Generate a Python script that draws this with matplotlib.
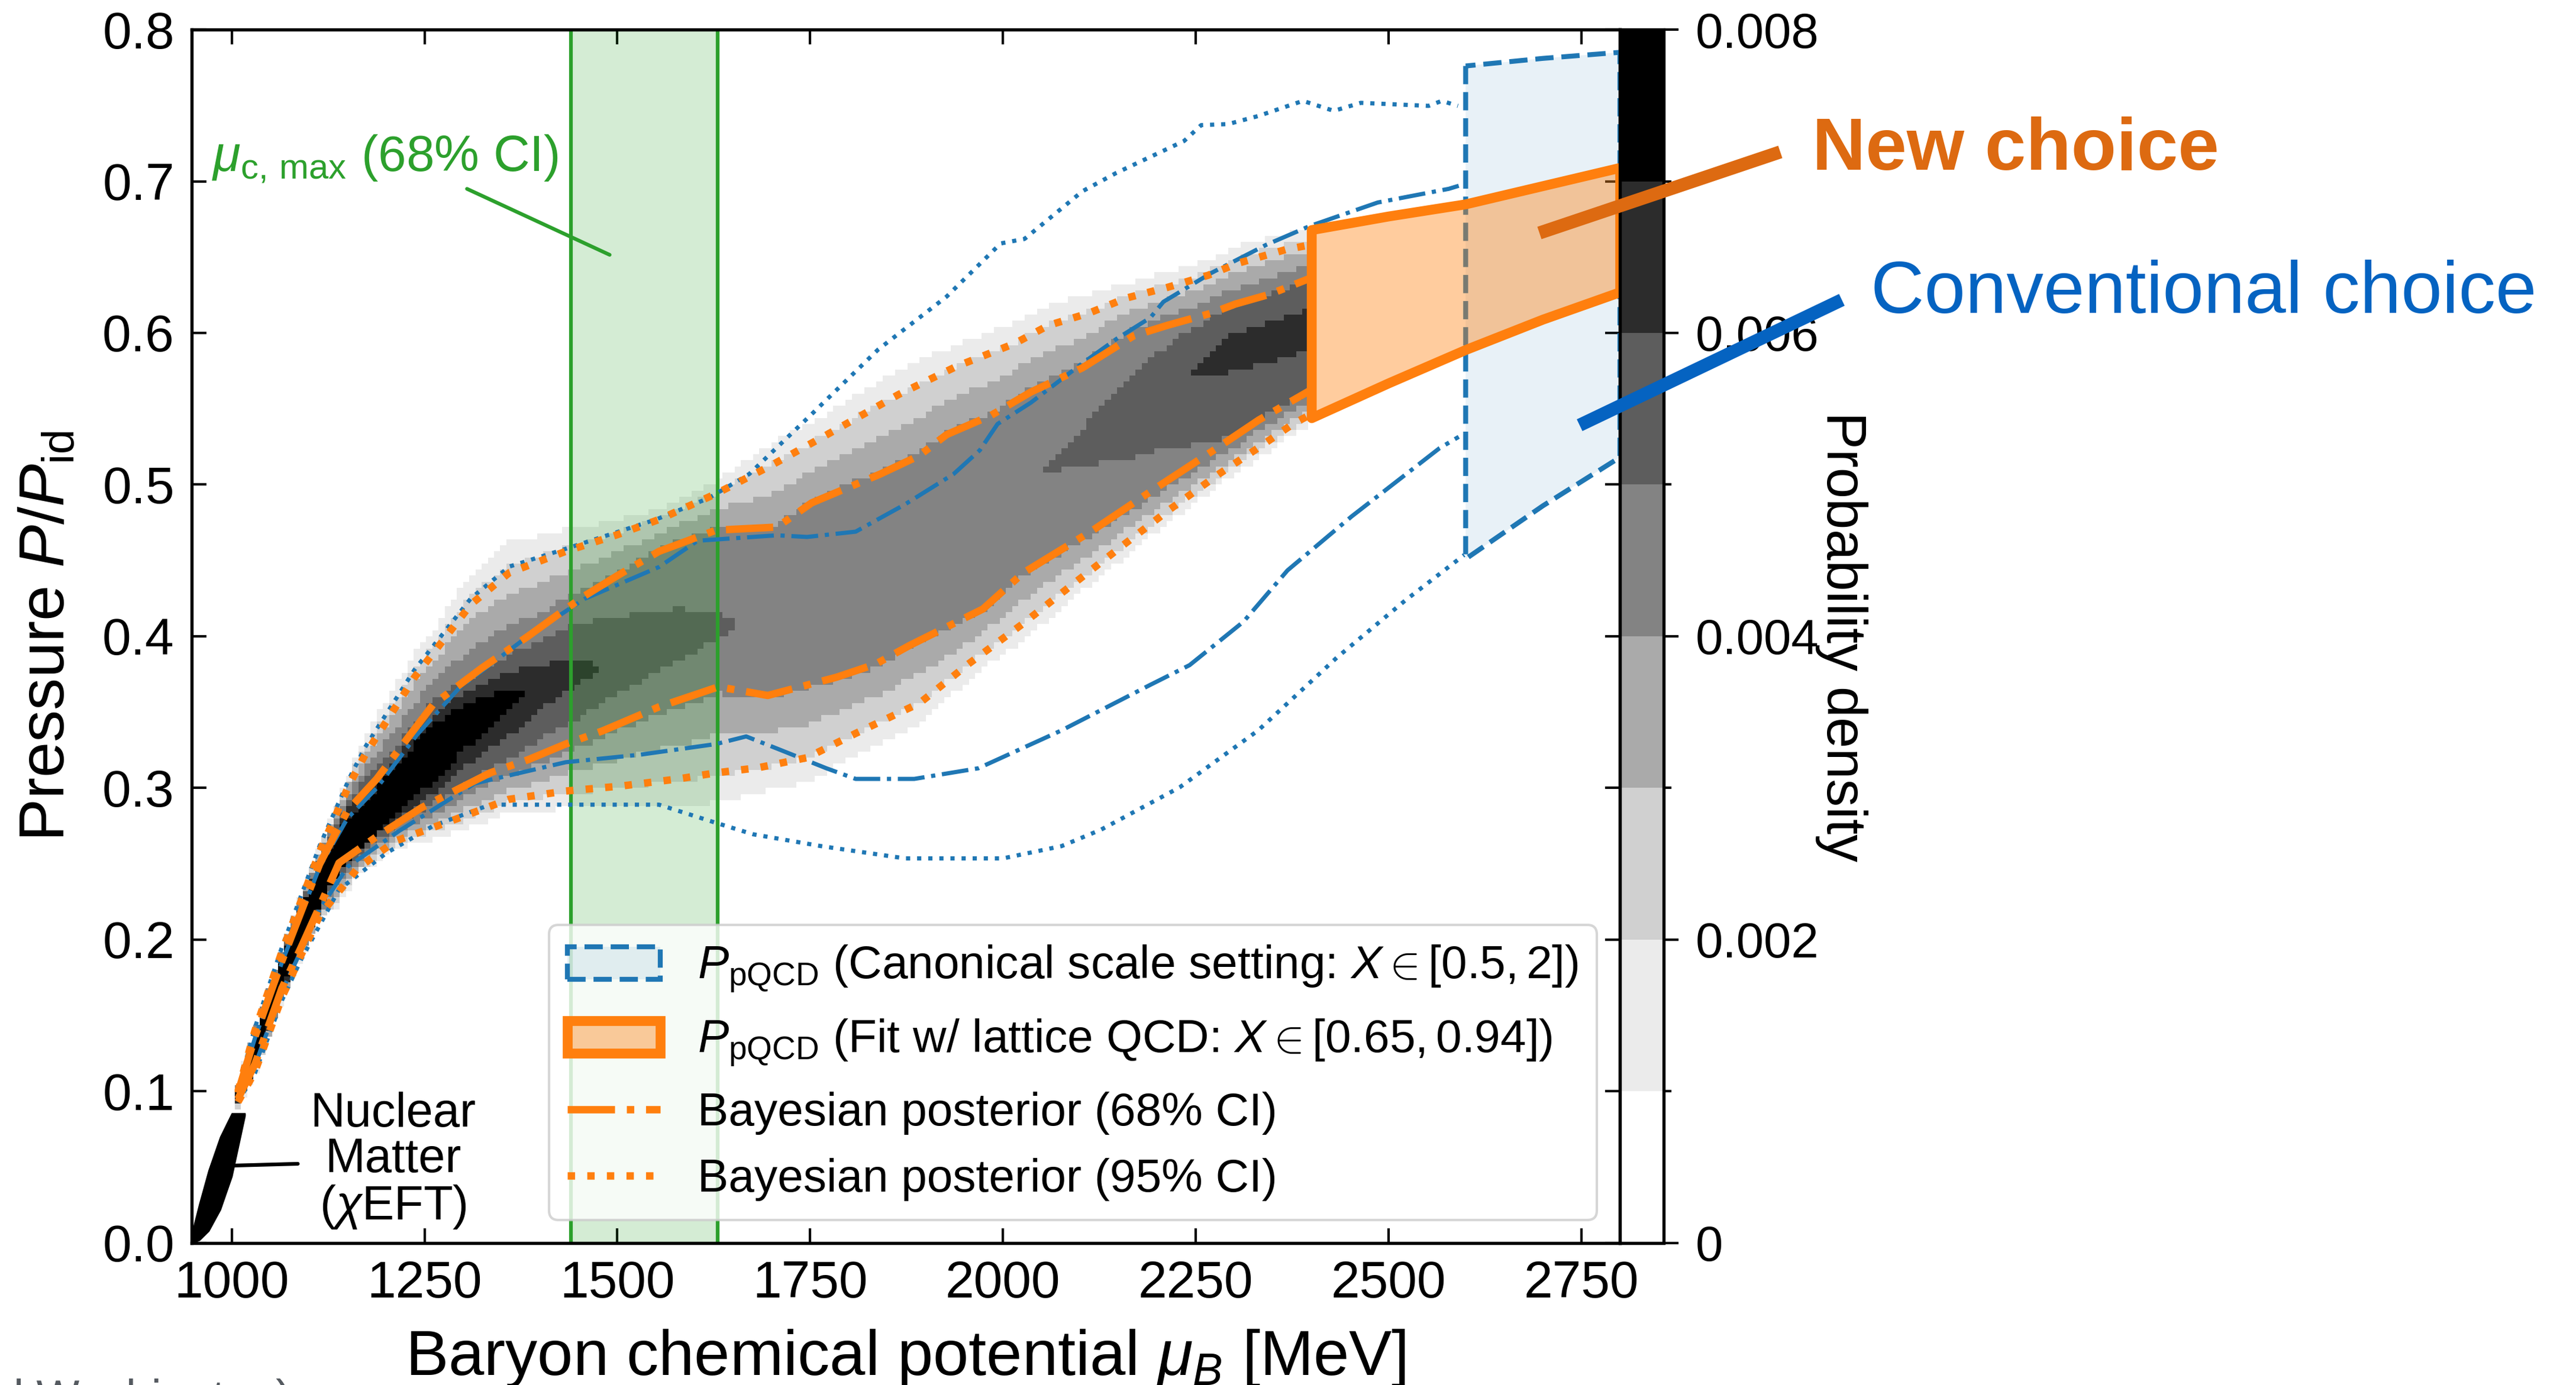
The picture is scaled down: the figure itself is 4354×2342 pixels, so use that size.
import numpy as np
import matplotlib
matplotlib.use("Agg")
import matplotlib.pyplot as plt
from matplotlib.colors import ListedColormap, BoundaryNorm
from matplotlib.patches import Patch
from matplotlib.lines import Line2D

plt.rcParams['font.family'] = ['Liberation Sans', 'DejaVu Sans']
plt.rcParams['mathtext.fontset'] = 'custom'
plt.rcParams['mathtext.rm'] = 'Liberation Sans'
plt.rcParams['mathtext.it'] = 'Liberation Sans:italic'
plt.rcParams['mathtext.bf'] = 'Liberation Sans:bold'

# ---- data ----
# Bayesian posterior, fit to lattice QCD (orange)
o95_hi_mu = [1008, 1030, 1065, 1114, 1153, 1173, 1237, 1310, 1360, 1433, 1500, 1554, 1628, 1697, 1772,
             1865, 1940, 2015, 2059, 2111, 2160, 2213, 2266, 2305, 2367, 2398]
o95_hi_p = [0.100, 0.140, 0.192, 0.258, 0.303, 0.322, 0.373, 0.421, 0.442, 0.456, 0.467, 0.477, 0.494,
            0.512, 0.533, 0.5595, 0.578, 0.593, 0.605, 0.613, 0.623, 0.630, 0.638, 0.646, 0.655, 0.658]
o68_hi_mu = [1008, 1030, 1065, 1114, 1150, 1188, 1261, 1324, 1384, 1433, 1457, 1500, 1554, 1628, 1707,
             1752, 1841, 1891, 1927, 1984, 2036, 2103, 2169, 2213, 2270, 2301, 2346, 2398]
o68_hi_p = [0.099, 0.136, 0.186, 0.250, 0.285, 0.306, 0.355, 0.379, 0.400, 0.418, 0.4265, 0.440, 0.456,
            0.470, 0.472, 0.488, 0.507, 0.519, 0.533, 0.5455, 0.561, 0.577, 0.598, 0.605, 0.613, 0.619,
            0.6255, 0.636]
o68_lo_mu = [1008, 1030, 1065, 1090, 1114, 1139, 1188, 1246, 1335, 1384, 1433, 1481, 1554, 1631, 1695,
             1784, 1835, 1879, 1974, 2026, 2115, 2191, 2279, 2332, 2398]
o68_lo_p = [0.095, 0.118, 0.168, 0.195, 0.222, 0.2506, 0.268, 0.287, 0.310, 0.3186, 0.329, 0.3377,
            0.3535, 0.3667, 0.361, 0.373, 0.3817, 0.394, 0.418, 0.4417, 0.4694, 0.4953, 0.5246, 0.5427,
            0.562]
o95_lo_mu = [1008, 1030, 1065, 1090, 1114, 1163, 1212, 1286, 1359, 1433, 1505, 1579, 1628, 1682, 1746,
             1809, 1892, 1955, 2025, 2089, 2153, 2215, 2280, 2332, 2376, 2398]
o95_lo_p = [0.093, 0.113, 0.162, 0.190, 0.216, 0.247, 0.265, 0.2786, 0.2925, 0.298, 0.3013, 0.306,
            0.310, 0.3133, 0.320, 0.336, 0.356, 0.3817, 0.408, 0.4337, 0.459, 0.4832, 0.507, 0.5246,
            0.540, 0.546]

# Bayesian posterior, canonical scale setting (blue)
b95_hi_mu = [1008, 1030, 1065, 1114, 1153, 1173, 1237, 1310, 1360, 1433, 1550, 1618, 1671, 1750, 1838,
             1927, 1997, 2028, 2103, 2147, 2235, 2257, 2292, 2331, 2389, 2429, 2464, 2552, 2569, 2590]
b95_hi_p = [0.101, 0.142, 0.195, 0.262, 0.307, 0.327, 0.378, 0.425, 0.446, 0.4577, 0.477, 0.491, 0.507,
            0.5455, 0.589, 0.624, 0.659, 0.662, 0.6934, 0.7055, 0.7266, 0.737, 0.7377, 0.743, 0.753,
            0.7464, 0.7517, 0.7497, 0.753, 0.7497]
b68_hi_mu = [1008, 1030, 1065, 1114, 1150, 1188, 1240, 1295, 1384, 1457, 1554, 1604, 1707, 1746, 1809,
             1873, 1936, 1970, 1993, 2036, 2103, 2147, 2191, 2208, 2270, 2341, 2398, 2486, 2578, 2591]
b68_hi_p = [0.099, 0.135, 0.185, 0.248, 0.280, 0.300, 0.335, 0.366, 0.400, 0.4246, 0.4457, 0.463,
            0.4666, 0.4655, 0.469, 0.487, 0.507, 0.5227, 0.540, 0.554, 0.580, 0.596, 0.610, 0.6205,
            0.6395, 0.658, 0.6705, 0.686, 0.695, 0.697]
b68_lo_mu = [1008, 1030, 1065, 1090, 1114, 1150, 1217, 1315, 1433, 1530, 1628, 1667, 1707, 1771, 1809,
             1885, 1968, 2076, 2191, 2242, 2312, 2369, 2452, 2528, 2566, 2591]
b68_lo_p = [0.096, 0.117, 0.166, 0.193, 0.220, 0.248, 0.2717, 0.303, 0.317, 0.322, 0.329, 0.334, 0.326,
            0.313, 0.306, 0.306, 0.313, 0.338, 0.368, 0.381, 0.4097, 0.4435, 0.479, 0.509, 0.524, 0.5315]
b95_lo_mu = [1008, 1030, 1065, 1090, 1139, 1200, 1261, 1335, 1433, 1554, 1628, 1676, 1764, 1873, 2000,
             2076, 2127, 2229, 2331, 2433, 2522, 2598]
b95_lo_p = [0.093, 0.112, 0.160, 0.187, 0.233, 0.257, 0.275, 0.289, 0.289, 0.289, 0.277, 0.2695,
            0.2617, 0.2536, 0.2536, 0.2617, 0.2725, 0.3004, 0.338, 0.386, 0.4238, 0.4536]

# pQCD bands
fit_mu = [2400, 2500, 2600, 2700, 2800]
fit_lo = [0.544, 0.567, 0.589, 0.609, 0.627]
fit_hi = [0.668, 0.677, 0.685, 0.697, 0.709]
canon_mu = [2600, 2700, 2800]
canon_lo = [0.451, 0.486, 0.518]
canon_hi = [0.776, 0.781, 0.785]

# chiral EFT nuclear matter
nm_mu = [948, 958, 970, 985, 1000, 1017]
nm_lo = [0.0, 0.002, 0.008, 0.022, 0.044, 0.084]
nm_hi = [0.006, 0.026, 0.048, 0.070, 0.0855, 0.0855]

# mu_c,max (68% CI)
muc_lo, muc_hi = 1440, 1630

# posterior density: ridge position, height at ridge and at the 68% lines
dens_mu = [1005, 1100, 1200, 1300, 1400, 1500, 1600, 1700, 1800, 1900, 2000, 2100, 2200, 2300, 2400]
dens_mode = [0.097, 0.215, 0.29, 0.343, 0.368, 0.383, 0.40, 0.415, 0.436, 0.46, 0.49, 0.525, 0.56,
             0.592, 0.605]
dens_peak = [0.012, 0.012, 0.011, 0.0085, 0.0068, 0.0058, 0.0053, 0.0048, 0.0048, 0.0048, 0.0048,
             0.0052, 0.0058, 0.0064, 0.0066]
dens_edge = [0.008, 0.007, 0.0055, 0.005, 0.0045, 0.0042, 0.0042, 0.0041, 0.0041, 0.0041, 0.0041,
             0.0042, 0.0045, 0.0050, 0.0050]
prof_z = [1, 2, 2.35, 2.8]
prof_f = [1.0, 0.5, 0.24, 0.0]

cb_colors = ['#ffffff', '#ebebeb', '#d0d0d0', '#aaaaaa', '#838383', '#5d5d5d', '#2c2c2c', '#000000']
cb_levels = np.linspace(0, 0.008, 9)

c_blue = '#1f77b4'
c_orange = '#ff7f0e'
c_green = '#2ca02c'

# ---- density grid ----
mu_edges = np.arange(1004, 2401, 8)
p_edges = np.arange(0, 0.8001, 0.004)
mu_c = 0.5 * (mu_edges[1:] + mu_edges[:-1])
p_c = 0.5 * (p_edges[1:] + p_edges[:-1])
M, P = np.meshgrid(mu_c, p_c)
mode = np.interp(M, dens_mu, dens_mode)
peak = np.interp(M, dens_mu, dens_peak)
edge = np.interp(M, dens_mu, dens_edge)
h68 = np.interp(M, o68_hi_mu, o68_hi_p)
h95 = np.interp(M, o95_hi_mu, o95_hi_p)
l68 = np.interp(M, o68_lo_mu, o68_lo_p)
l95 = np.interp(M, o95_lo_mu, o95_lo_p)
up1 = np.maximum(h68 - mode, 0.003)
up2 = np.maximum(h95 - h68, 0.004)
dn1 = np.maximum(mode - l68, 0.003)
dn2 = np.maximum(l68 - l95, 0.004)
z = np.where(P >= mode,
             np.where(P < h68, (P - mode) / up1, 1 + (P - h68) / up2),
             np.where(P > l68, (mode - P) / dn1, 1 + (l68 - P) / dn2))
inner = peak + (edge - peak) * np.clip(z, 0, 1)
outer = edge * np.interp(z, prof_z, prof_f)
dens = np.where(z <= 1, inner, outer)
dens = np.ma.masked_less(dens, 0.001)

# ---- figure ----
fig = plt.figure(figsize=(4354 / 300, 2342 / 300), dpi=300)
ax = fig.add_axes([0.07441, 0.10248, 0.55444, 0.87617])

cmap = ListedColormap(cb_colors)
norm = BoundaryNorm(cb_levels, cmap.N, clip=True)
mesh = ax.pcolormesh(mu_edges, p_edges, dens, cmap=cmap, norm=norm, zorder=1, rasterized=True)

ax.axvspan(muc_lo, muc_hi, color=c_green, alpha=0.2, lw=0, zorder=2)
ax.axvline(muc_lo, color=c_green, lw=1.5, zorder=2)
ax.axvline(muc_hi, color=c_green, lw=1.5, zorder=2)

ax.fill_between(nm_mu, nm_lo, nm_hi, color='k', lw=0.5, zorder=4)

# blue posterior
ax.plot(b95_hi_mu, b95_hi_p, ':', color=c_blue, lw=1.7, zorder=3)
ax.plot(b95_lo_mu, b95_lo_p, ':', color=c_blue, lw=1.7, zorder=3)
ax.plot(b68_hi_mu, b68_hi_p, '-.', color=c_blue, lw=1.7, zorder=3)
ax.plot(b68_lo_mu, b68_lo_p, '-.', color=c_blue, lw=1.7, zorder=3)
ax.fill_between(canon_mu, canon_lo, canon_hi, facecolor=(0.12, 0.47, 0.71, 0.1),
                edgecolor=c_blue, linestyle='--', lw=2, zorder=3)

# orange posterior
ax.plot(o95_hi_mu, o95_hi_p, ':', color=c_orange, lw=3, zorder=4)
ax.plot(o95_lo_mu, o95_lo_p, ':', color=c_orange, lw=3, zorder=4)
ax.plot(o68_hi_mu, o68_hi_p, '-.', color=c_orange, lw=3, zorder=4)
ax.plot(o68_lo_mu, o68_lo_p, '-.', color=c_orange, lw=3, zorder=4)
ax.fill_between(fit_mu, fit_lo, fit_hi, facecolor=(1.0, 0.5, 0.055, 0.4),
                edgecolor=c_orange, lw=4, joinstyle='round', zorder=5)

ax.set_xlim(948, 2800)
ax.set_ylim(0, 0.8)
ax.set_xticks(np.arange(1000, 2751, 250))
ax.set_yticks(np.arange(0, 0.81, 0.1))
ax.tick_params(direction='in', top=True, right=True, length=6, width=1.0, labelsize=21, pad=7)
for s in ax.spines.values():
    s.set_linewidth(1.3)
ax.set_xlabel(r'Baryon chemical potential $\mu_B$ [MeV]', fontsize=26, labelpad=8)
ax.set_ylabel(r'Pressure $P/P_{\rm id}$', fontsize=26, labelpad=10)

ax.text(974, 0.707, r'$\mu_{\rm c,\,max}$ (68% CI)', color=c_green, fontsize=20.5, va='baseline')
ax.annotate('', xy=(1490, 0.6515), xytext=(1305, 0.695),
            arrowprops=dict(arrowstyle='-', color=c_green, lw=1.5, shrinkA=0, shrinkB=0))
ax.annotate('Nuclear\nMatter\n($\\chi$EFT)', xy=(996, 0.051), xytext=(1209, 0.054),
            ha='center', va='center', fontsize=19.5, linespacing=1.03,
            arrowprops=dict(arrowstyle='-', color='k', lw=1.5, shrinkA=3, shrinkB=0))

handles = [Patch(facecolor=(0.12, 0.47, 0.71, 0.1), edgecolor=c_blue, linestyle='--', lw=2),
           Patch(facecolor=(1.0, 0.5, 0.055, 0.4), edgecolor=c_orange, lw=4),
           Line2D([], [], ls='-.', color=c_orange, lw=3),
           Line2D([], [], ls=':', color=c_orange, lw=3)]
labels = [r'$P_{\rm pQCD}$ (Canonical scale setting: $X\in[0.5, 2]$)',
          r'$P_{\rm pQCD}$ (Fit w/ lattice QCD: $X\in[0.65, 0.94]$)',
          'Bayesian posterior (68% CI)',
          'Bayesian posterior (95% CI)']
leg = ax.legend(handles, labels, loc='lower right', fontsize=18.8, framealpha=0.8)
leg.set_zorder(10)

# colorbar
cax = fig.add_axes([0.62885, 0.10248, 0.0170, 0.87617])
cb = fig.colorbar(mesh, cax=cax, ticks=[0, 0.002, 0.004, 0.006, 0.008])
cb.ax.set_yticklabels(['0', '0.002', '0.004', '0.006', '0.008'])
cb.ax.yaxis.set_minor_locator(matplotlib.ticker.FixedLocator([0.001, 0.003, 0.005, 0.007]))
cb.ax.tick_params(which='major', length=6, width=1.0, labelsize=20, pad=7)
cb.ax.tick_params(which='minor', length=3, width=1.0)
cb.outline.set_linewidth(1.3)
fig.text(0.7148, 0.5405, 'Probability density', rotation=270, ha='center', va='center', fontsize=22.5)

# callouts
fig.add_artist(Line2D([0.5976, 0.6911], [0.8318, 0.8903], color='#dd6a11', lw=5.3,
                      solid_capstyle='butt', zorder=20))
fig.add_artist(Line2D([0.6132, 0.7150], [0.6930, 0.7835], color='#0563c1', lw=5.3,
                      solid_capstyle='butt', zorder=20))
fig.text(0.7035, 0.8775, 'New choice', color='#dd6a11', fontsize=30, fontweight='bold', va='baseline')
fig.text(0.7262, 0.7741, 'Conventional choice', color='#0563c1', fontsize=30, va='baseline')
fig.text(23 / 4354, -0.0195, 'l Washington)', color='#555a60', fontsize=18.5, va='baseline')

fig.savefig('out.png', dpi=300)
